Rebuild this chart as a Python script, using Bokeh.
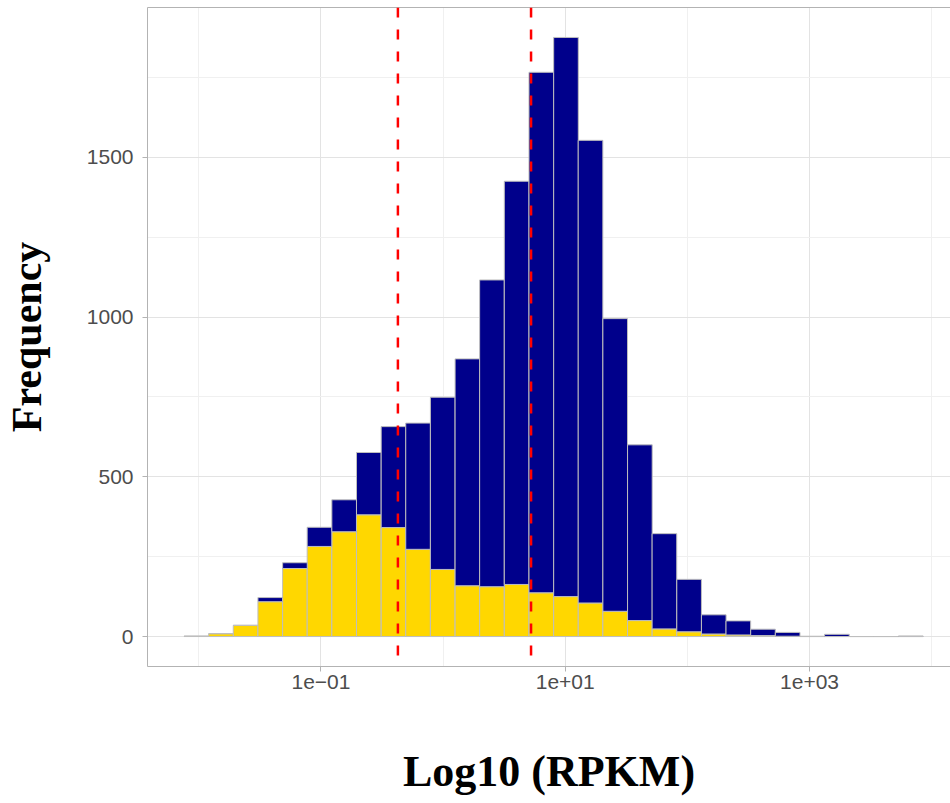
from bokeh.plotting import figure
from bokeh.models import ColumnDataSource, FixedTicker, Span, LinearAxis
from bokeh.embed import file_html
from bokeh.resources import INLINE

# ---- data (log10 RPKM histogram, 30 bins) ----
bin_width = 0.2017
bin_centers = [-2.020, -1.818, -1.617, -1.415, -1.213, -1.012, -0.810, -0.608,
               -0.406, -0.205, -0.003, 0.199, 0.400, 0.602, 0.804, 1.006,
               1.207, 1.409, 1.611, 1.812, 2.014, 2.216, 2.417, 2.619,
               2.821, 3.023, 3.224, 3.426, 3.628, 3.829]
total_counts = [1, 9, 35, 122, 231, 342, 428, 576, 657, 668, 749, 869, 1116,
                1425, 1766, 1875, 1553, 995, 600, 322, 179, 68, 49, 23, 13,
                1, 7, 0, 0, 2]
yellow_counts = [1, 9, 35, 109, 213, 282, 328, 381, 341, 273, 210, 159, 156,
                 163, 137, 125, 105, 79, 50, 24, 15, 8, 5, 3, 1,
                 0, 0, 0, 0, 0]
cutoffs_log10 = [-0.37, 0.72]

x_ticks = [-1, 1, 3]
x_minor = [-2, 0, 2, 4]
x_tick_labels = {-1: "1e\u221201", 1: "1e+01", 3: "1e+03"}
y_ticks = [0, 500, 1000, 1500]
y_minor = [250, 750, 1250, 1750]

x_title = "Log10 (RPKM)"
y_title = "Frequency"

# ---- build ----
left = [c - bin_width / 2 for c in bin_centers]
right = [c + bin_width / 2 for c in bin_centers]
src = ColumnDataSource(dict(left=left, right=right,
                            zero=[0] * len(bin_centers),
                            yel=yellow_counts, tot=total_counts))

p = figure(width=950, height=803, x_range=(-2.42, 4.154),
           y_range=(-93.75, 1968.75), output_backend="svg",
           toolbar_location=None, min_border_left=146, min_border_right=0,
           min_border_top=7, min_border_bottom=137)

p.background_fill_color = "white"
p.border_fill_color = "white"
p.outline_line_color = None

border = "#B3B3B3"
xaxis = p.below[0]
yaxis = p.left[0]

top_axis = LinearAxis(ticker=FixedTicker(ticks=[], minor_ticks=[]),
                      axis_line_color=border,
                      major_tick_line_color=None, minor_tick_line_color=None,
                      major_tick_out=0, major_label_standoff=0,
                      major_label_text_font_size="0px")
p.add_layout(top_axis, "above")

bar_line = "#BEBEBE"
p.quad(left="left", right="right", bottom="zero", top="yel", source=src,
       fill_color="#FFD700", line_color=bar_line, line_width=1)
p.quad(left="left", right="right", bottom="yel", top="tot", source=src,
       fill_color="#00008B", line_color=bar_line, line_width=1)

for c in cutoffs_log10:
    p.add_layout(Span(location=c, dimension="height", line_color="#FF0000",
                      line_width=2.5, line_dash="10 12"))

xaxis.ticker = FixedTicker(ticks=x_ticks, minor_ticks=x_minor)
yaxis.ticker = FixedTicker(ticks=y_ticks, minor_ticks=y_minor)
xaxis.major_label_overrides = x_tick_labels

for ax in (xaxis, yaxis):
    ax.axis_line_color = border
    ax.major_tick_line_color = border
    ax.major_tick_out = 5
    ax.major_tick_in = 0
    ax.minor_tick_line_color = None
    ax.major_label_text_font = "Liberation Sans"
    ax.major_label_text_font_size = "21px"
    ax.major_label_text_color = "#4D4D4D"
    ax.axis_label_text_font = "Liberation Serif"
    ax.axis_label_text_font_style = "bold"
    ax.axis_label_text_color = "black"
xaxis.major_label_standoff = 3
yaxis.major_label_standoff = 9

xaxis.axis_label = x_title
xaxis.axis_label_text_font_size = "44px"
xaxis.axis_label_standoff = 55
yaxis.axis_label = y_title
yaxis.axis_label_text_font_size = "42px"
yaxis.axis_label_standoff = 34

for g in (p.xgrid, p.ygrid):
    g.grid_line_color = "#E3E3E3"
    g.grid_line_width = 1
    g.minor_grid_line_color = "#F0F0F0"
    g.minor_grid_line_width = 1

open("out.html", "w").write(file_html(p, INLINE))
